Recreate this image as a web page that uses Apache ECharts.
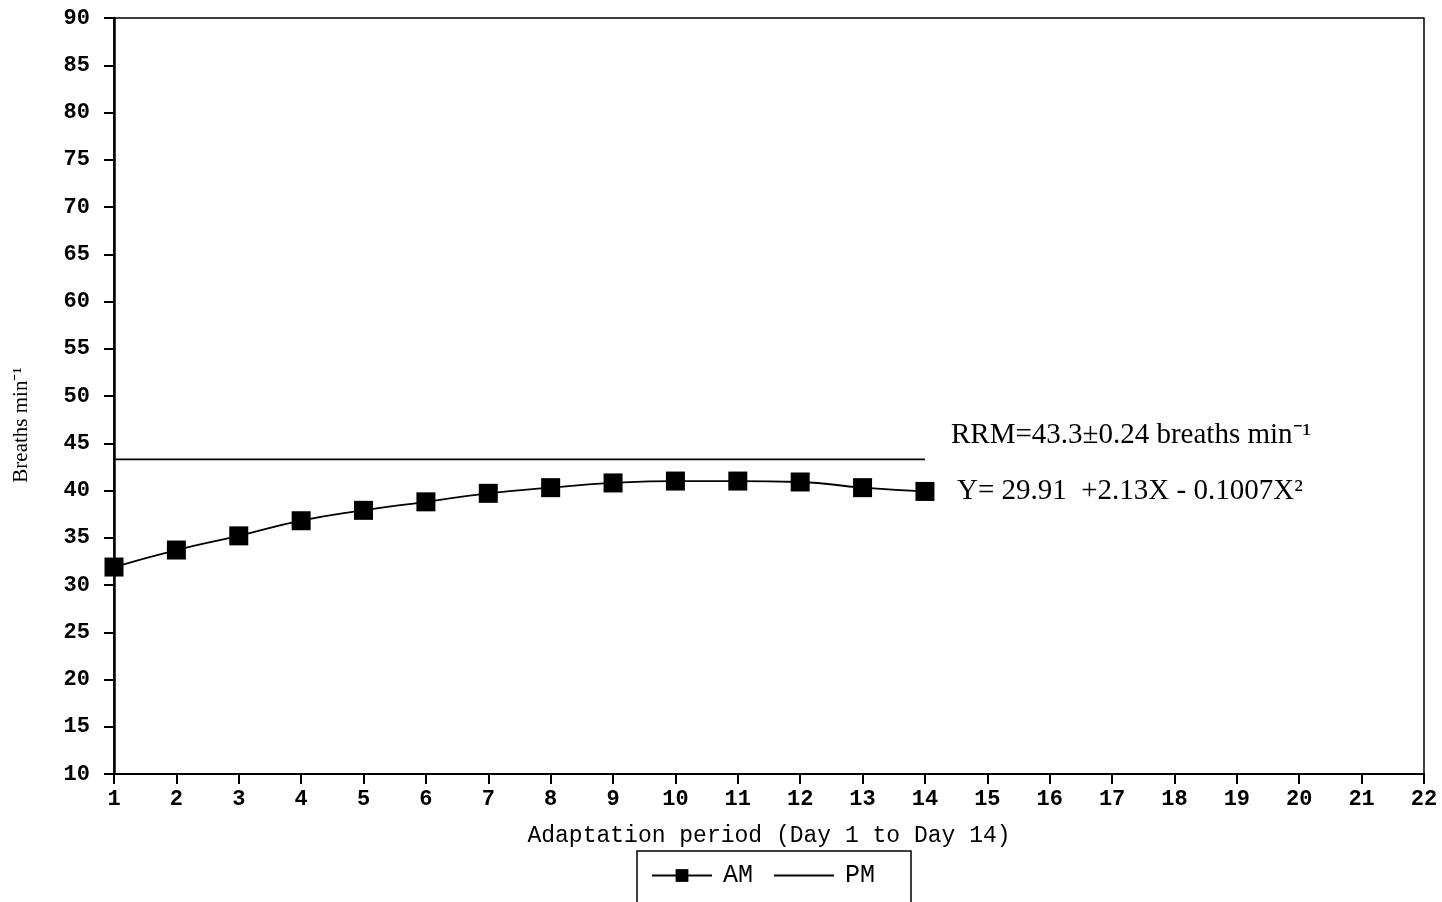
<!DOCTYPE html>
<html>
<head>
    <meta charset="UTF-8">
    <title>Breaths min-1 during adaptation period</title>
    <script src="https://cdn.jsdelivr.net/npm/echarts@6/dist/echarts.min.js"></script>
</head>
<body style="margin: 0;overflow: hidden;background: #fff;">
<div id="chart" style="width: 1442px;height: 902px;"></div>
<script type="text/javascript">
    // day of the adaptation period
    var days = [1, 2, 3, 4, 5, 6, 7, 8, 9, 10, 11, 12, 13, 14];
    // AM respiration rate, breaths per minute
    var amRate = [31.9, 33.7, 35.2, 36.8, 37.9, 38.8, 39.7, 40.3, 40.8, 41.0, 41.0, 40.9, 40.3, 39.9];
    // PM respiration rate (mean line)
    var pmRate = [43.3, 43.3, 43.3, 43.3, 43.3, 43.3, 43.3, 43.3, 43.3, 43.3, 43.3, 43.3, 43.3, 43.3];
    var rrmText = 'RRM=43.3\u00b10.24 breaths min\u207b\u00b9';
    var fitText = 'Y= 29.91  +2.13X - 0.1007X\u00b2';

    function pairs(xs, ys) {
        var out = [];
        for (var i = 0; i < xs.length; i++) {
            out.push([xs[i], ys[i]]);
        }
        return out;
    }

    var tickFont = {
        color: '#000',
        fontFamily: 'Liberation Mono',
        fontWeight: 'bold',
        fontSize: 22
    };

    var chart = echarts.init(document.getElementById('chart'));
    var option = {
        backgroundColor: '#fff',
        animation: false,
        grid: {
            left: 114,
            right: 18,
            top: 18,
            bottom: 128,
            show: true,
            borderColor: '#000',
            borderWidth: 1.5
        },
        legend: {
            left: 637,
            top: 851,
            padding: [12, 36, 24, 14],
            borderColor: '#000',
            borderWidth: 1.5,
            itemWidth: 60,
            itemHeight: 16,
            itemGap: 20,
            textStyle: {
                color: '#000',
                fontFamily: 'Liberation Mono',
                fontSize: 25,
                padding: [0, 0, 0, 6]
            },
            data: [
                {name: 'AM'},
                {name: 'PM', itemStyle: {color: 'transparent', borderWidth: 0}}
            ]
        },
        xAxis: {
            type: 'value',
            min: 1,
            max: 22,
            interval: 1,
            name: 'Adaptation period (Day 1 to Day 14)',
            nameLocation: 'middle',
            nameGap: 50,
            nameTextStyle: {
                color: '#000',
                fontFamily: 'Liberation Mono',
                fontSize: 23
            },
            splitLine: {show: false},
            axisLine: {lineStyle: {color: '#000', width: 2}},
            axisTick: {length: 10, lineStyle: {color: '#000', width: 2}},
            axisLabel: Object.assign({margin: 14}, tickFont)
        },
        yAxis: {
            type: 'value',
            min: 10,
            max: 90,
            interval: 5,
            name: 'Breaths min\u207b\u00b9',
            nameLocation: 'middle',
            nameGap: 82,
            nameTextStyle: {
                color: '#000',
                fontFamily: 'Liberation Serif',
                fontSize: 21,
                padding: [0, 58, 0, 0]
            },
            splitLine: {show: false},
            axisLine: {show: true, lineStyle: {color: '#000', width: 2.5}},
            axisTick: {show: true, length: 10, lineStyle: {color: '#000', width: 2}},
            axisLabel: Object.assign({margin: 24}, tickFont)
        },
        series: [
            {
                name: 'AM',
                type: 'line',
                smooth: true,
                symbol: 'rect',
                symbolSize: 19,
                itemStyle: {color: '#000'},
                lineStyle: {color: '#000', width: 1.8},
                endLabel: {
                    show: true,
                    formatter: fitText,
                    offset: [24, 0],
                    color: '#000',
                    fontFamily: 'Liberation Serif',
                    fontSize: 29
                },
                data: pairs(days, amRate)
            },
            {
                name: 'PM',
                type: 'line',
                symbol: 'none',
                itemStyle: {color: '#000'},
                lineStyle: {color: '#000', width: 1.8},
                endLabel: {
                    show: true,
                    formatter: rrmText,
                    offset: [18, -24],
                    color: '#000',
                    fontFamily: 'Liberation Serif',
                    fontSize: 29
                },
                data: pairs(days, pmRate)
            }
        ]
    };
    chart.setOption(option);
</script>
</body>
</html>
